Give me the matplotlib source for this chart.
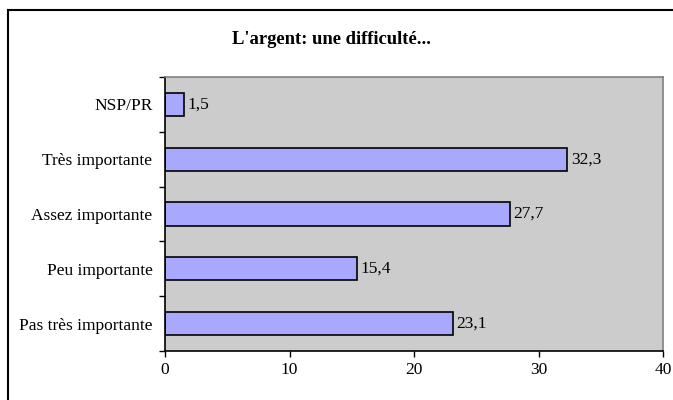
import matplotlib.pyplot as plt
from matplotlib.lines import Line2D

categories = ["Pas très importante", "Peu importante", "Assez importante",
              "Très importante", "NSP/PR"]
values = [23.1, 15.4, 27.7, 32.3, 1.5]
value_labels = ["23,1", "15,4", "27,7", "32,3", "1,5"]
xticks = [0, 10, 20, 30, 40]

plt.rcParams['font.family'] = ['Liberation Serif', 'DejaVu Serif']

fig = plt.figure(figsize=(6.73, 4.0), dpi=100)
ax = fig.add_axes([165 / 673, 1 - 351 / 400, 498 / 673, 274 / 400])
ax.set_facecolor("#cccccc")

pos = list(range(len(categories)))
ax.barh(pos, values, height=0.42, color="#a8a8ff", edgecolor="black", linewidth=1.2)
for p, v, lab in zip(pos, values, value_labels):
    ax.text(v + 0.3, p, lab, va="center", ha="left", fontsize=12.5)

ax.set_xlim(0, 40)
ax.set_ylim(-0.5, len(categories) - 0.5)
ax.set_xticks(xticks)
ax.set_xticklabels([str(t) for t in xticks], fontsize=12.5)
ax.set_yticks(pos)
ax.set_yticklabels(categories, fontsize=12.5)
ax.tick_params(axis="y", length=0, pad=9)
ax.set_yticks([p - 0.5 for p in pos] + [len(pos) - 0.5], minor=True)
ax.tick_params(axis="y", which="minor", length=4, width=1, direction="out")
ax.tick_params(axis="x", length=4, width=1, direction="out", pad=4)

for s in ["left", "bottom"]:
    ax.spines[s].set_color("black")
    ax.spines[s].set_linewidth(1.2)
for s in ["top", "right"]:
    ax.spines[s].set_color("#808080")
    ax.spines[s].set_linewidth(1.2)

fig.text(331 / 673, 1 - 40 / 400, "L'argent: une difficulté...", ha="center",
         va="center", fontsize=13.4, fontweight="bold")

# outer chart frame (top and left edges visible)
fig.add_artist(Line2D([8 / 673, 1.0], [1 - 10 / 400, 1 - 10 / 400],
                      transform=fig.transFigure, color="black", linewidth=1.5))
fig.add_artist(Line2D([8 / 673, 8 / 673], [0.0, 1 - 10 / 400],
                      transform=fig.transFigure, color="black", linewidth=1.5))

fig.savefig("out.png", dpi=100)
